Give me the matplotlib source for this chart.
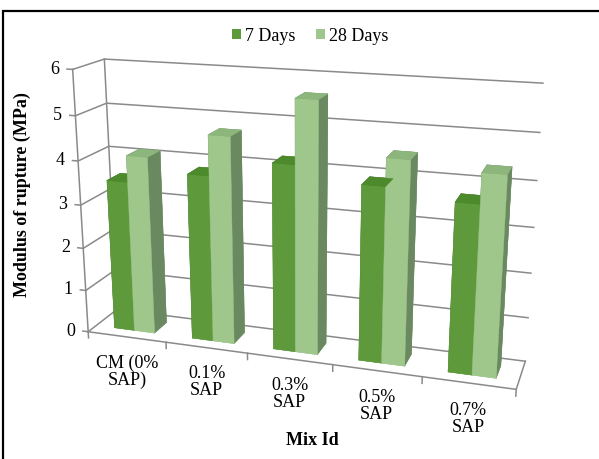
import numpy as np
import matplotlib.pyplot as plt
from matplotlib.patches import Patch, Rectangle
from mpl_toolkits.mplot3d import proj3d

mixes = ['CM (0%\nSAP)', '0.1%\nSAP', '0.3%\nSAP', '0.5%\nSAP', '0.7%\nSAP']
series = ['7 Days', '28 Days']
days_7 = [3.5, 3.8, 4.2, 3.9, 3.7]
days_28 = [4.1, 4.7, 5.6, 4.5, 4.35]
y_ticks = [0, 1, 2, 3, 4, 5, 6]

plt.rcParams['font.family'] = ['Liberation Serif', 'DejaVu Serif']

# face colours: front, top, side
dark = {'front': '#5e9a3b', 'top': '#4c8a2c', 'side': '#44712f'}
light = {'front': '#9fc78c', 'top': '#8db67c', 'side': '#6a8960'}


def face_colors(c, n):
    # bar3d order: bottom, top, front(-y), back(+y), left(-x), right(+x)
    one = [c['front'], c['top'], c['front'], c['side'], c['side'], c['side']]
    return one * n


fig = plt.figure(figsize=(5.99, 4.60), dpi=100)
ax = fig.add_axes([0.0525, -0.0555, 0.873, 1.137], projection='3d')
ax.set_proj_type('persp', focal_length=0.40)
ax.view_init(elev=17, azim=-72)
ax.set_box_aspect((1.61, 0.24, 1.0))
ax.set_xlim(0, 5)
ax.set_ylim(0, 1)
ax.set_zlim(0, 6)
ax.set_axis_off()

M = ax.get_proj()


def label3d(x, y, z, s, **kw):
    # place flat text at the projected position of a 3D point
    px, py, _ = proj3d.proj_transform(x, y, z, M)
    ax.text2D(px, py, s, transform=ax.transData, **kw)


n = len(mixes)
w = 0.26
d = 0.45
x0 = np.arange(n) + 0.5 - w
y0 = 0.5 - d / 2

xs = np.concatenate([x0, x0 + w])
hs = np.concatenate([days_7, days_28])
cols = face_colors(dark, n) + face_colors(light, n)
ax.bar3d(xs, np.full(2 * n, y0), np.zeros(2 * n), w, d, hs,
         color=cols, shade=False, edgecolor=cols, linewidth=0.3)

# walls, floor and axis
grid_kw = dict(color='#8a8a8a', lw=1.1, zorder=1)
for z in y_ticks:
    ax.plot([0, 0, 5], [0, 1, 1], [z, z, z], **grid_kw)
    ax.plot([-0.07, 0], [0, 0], [z, z], **grid_kw)
    label3d(-0.17, 0, z, str(z), ha='right', va='center', fontsize=13)
ax.plot([0, 0], [0, 0], [0, 6], **grid_kw)
ax.plot([0, 0], [1, 1], [0, 6], **grid_kw)
ax.plot([0, 5, 5], [0, 0, 1], [0, 0, 0], **grid_kw)
for i in range(n + 1):
    ax.plot([i, i], [0, 0], [0, -0.15], **grid_kw)
for i, lab in enumerate(mixes):
    label3d(i + 0.5, 0, -0.4, lab, ha='center', va='top', fontsize=13,
            linespacing=1.0)

fig.text(0.037, 0.576, 'Modulus of rupture (MPa)', rotation=90, ha='center',
         va='center', fontsize=13, fontweight='bold')
fig.text(0.521, 0.043, 'Mix Id', ha='center', va='center', fontsize=13,
         fontweight='bold')

handles = [Patch(fc=dark['front']), Patch(fc=light['front'])]
fig.legend(handles, series, loc='center', bbox_to_anchor=(0.518, 0.92),
           ncol=2, frameon=False, fontsize=13, handlelength=0.5,
           handleheight=0.5, handletextpad=0.25, columnspacing=1.1)

# outer frame
fig.add_artist(Rectangle((2.5 / 599, -0.05), 1.2, 1.025 - 11.5 / 460 + 0.025,
                         transform=fig.transFigure, fill=False, lw=1.6,
                         ec='black'))

fig.savefig('out.png', dpi=100)
